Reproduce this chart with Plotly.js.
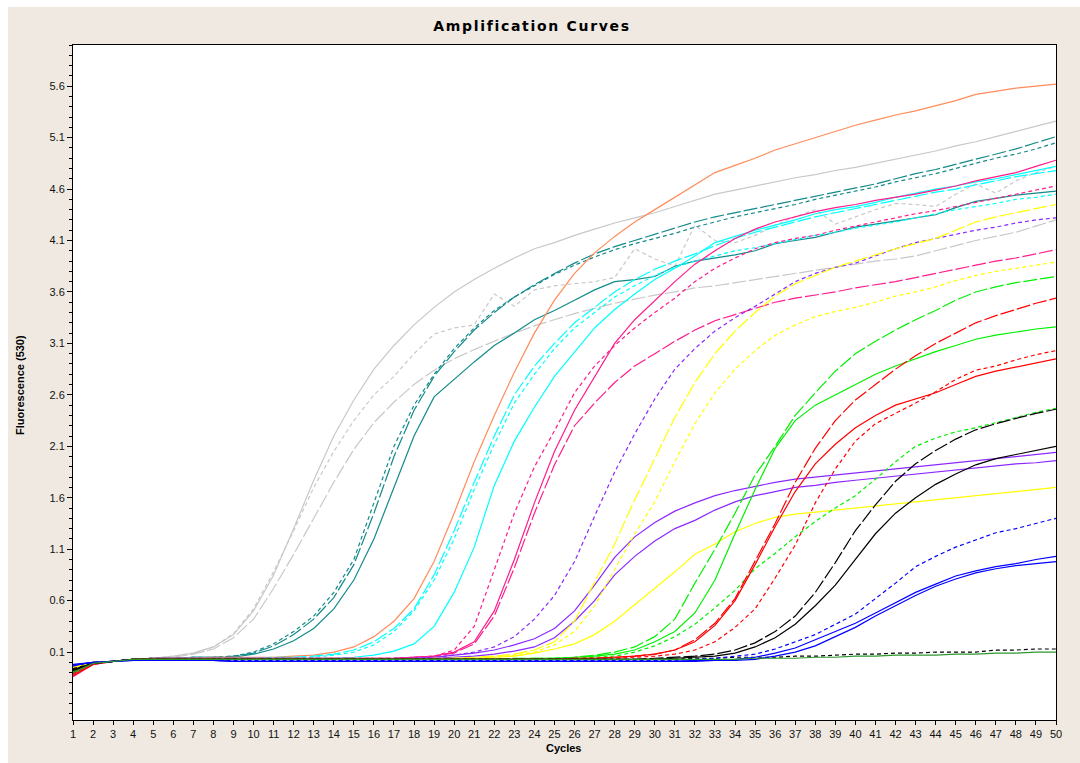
<!DOCTYPE html>
<html><head><meta charset="utf-8">
<script src="https://cdn.plot.ly/plotly-3.0.1.min.js"></script>
<style>html,body{margin:0;padding:0;background:#fff}#chart{width:1080px;height:763px}</style>
</head><body><div id="chart"></div><script>
const cycles = [1,2,3,4,5,6,7,8,9,10,11,12,13,14,15,16,17,18,19,20,21,22,23,24,25,26,27,28,29,30,31,32,33,34,35,36,37,38,39,40,41,42,43,44,45,46,47,48,49,50];
const yTickVals = [0.1,0.6,1.1,1.6,2.1,2.6,3.1,3.6,4.1,4.6,5.1,5.6];
const yTickText = ["0.1","0.6","1.1","1.6","2.1","2.6","3.1","3.6","4.1","4.6","5.1","5.6"];

const graySolid = [-0.08,-0.01,0.01,0.03,0.04,0.06,0.09,0.15,0.27,0.5,0.85,1.3,1.77,2.2,2.55,2.85,3.08,3.28,3.45,3.6,3.72,3.83,3.93,4.02,4.08,4.15,4.21,4.27,4.32,4.37,4.43,4.49,4.55,4.59,4.63,4.67,4.71,4.74,4.78,4.81,4.85,4.89,4.93,4.97,5.02,5.06,5.11,5.16,5.21,5.26];
const grayDot = [-0.1,-0.01,0.01,0.03,0.04,0.06,0.09,0.15,0.28,0.52,0.88,1.28,1.7,2.05,2.35,2.6,2.78,3.0,3.19,3.25,3.28,3.58,3.46,3.62,3.66,3.68,3.7,3.74,4.02,3.92,3.85,4.25,4.1,4.08,4.15,4.25,4.33,4.4,4.26,4.33,4.4,4.46,4.45,4.43,4.55,4.65,4.56,4.68,4.76,4.82];
const grayDash = [-0.06,0.0,0.01,0.03,0.04,0.05,0.08,0.13,0.24,0.42,0.72,1.05,1.4,1.75,2.07,2.33,2.53,2.7,2.84,2.95,3.04,3.12,3.2,3.27,3.33,3.39,3.44,3.49,3.53,3.57,3.6,3.64,3.66,3.69,3.72,3.75,3.78,3.81,3.84,3.87,3.9,3.92,3.95,4.0,4.05,4.1,4.14,4.18,4.24,4.3];
const tealDot = [-0.05,0.0,0.01,0.03,0.04,0.04,0.05,0.05,0.06,0.1,0.18,0.3,0.45,0.68,1.0,1.55,2.1,2.5,2.8,3.05,3.25,3.42,3.55,3.66,3.77,3.86,3.94,4.01,4.07,4.12,4.17,4.23,4.28,4.33,4.37,4.41,4.45,4.5,4.54,4.58,4.62,4.67,4.71,4.75,4.8,4.85,4.9,4.94,4.99,5.05];
const tealDash = [-0.04,0.0,0.01,0.03,0.04,0.04,0.05,0.05,0.06,0.09,0.16,0.27,0.42,0.63,0.95,1.45,2.0,2.45,2.78,3.02,3.23,3.4,3.55,3.67,3.78,3.88,3.97,4.04,4.1,4.16,4.22,4.28,4.33,4.37,4.41,4.45,4.49,4.53,4.57,4.61,4.65,4.7,4.75,4.79,4.84,4.89,4.94,4.99,5.05,5.11];
const tealSolid = [-0.07,-0.01,0.01,0.03,0.04,0.04,0.05,0.05,0.05,0.08,0.13,0.21,0.33,0.52,0.8,1.2,1.7,2.2,2.58,2.75,2.92,3.08,3.2,3.33,3.42,3.52,3.62,3.7,3.72,3.75,3.85,3.9,3.93,3.96,4.0,4.07,4.1,4.13,4.18,4.23,4.26,4.29,4.32,4.35,4.42,4.48,4.51,4.54,4.56,4.58];
const orangeSolid = [-0.12,-0.01,0.01,0.03,0.04,0.04,0.04,0.05,0.05,0.05,0.05,0.06,0.07,0.1,0.15,0.25,0.4,0.62,0.98,1.45,1.95,2.4,2.82,3.2,3.52,3.78,3.98,4.14,4.28,4.4,4.52,4.64,4.76,4.83,4.9,4.98,5.04,5.1,5.16,5.22,5.27,5.32,5.36,5.41,5.46,5.52,5.55,5.58,5.6,5.62];
const cyanSolid = [-0.1,-0.01,0.01,0.03,0.04,0.04,0.04,0.04,0.04,0.04,0.04,0.04,0.04,0.04,0.05,0.07,0.11,0.18,0.35,0.68,1.12,1.72,2.15,2.48,2.78,3.02,3.25,3.43,3.58,3.72,3.83,3.95,4.08,4.14,4.2,4.25,4.3,4.36,4.4,4.43,4.47,4.52,4.56,4.6,4.63,4.67,4.7,4.74,4.78,4.82];
const cyanDash = [-0.08,-0.01,0.01,0.03,0.04,0.04,0.04,0.04,0.04,0.04,0.05,0.05,0.06,0.08,0.12,0.2,0.33,0.52,0.85,1.28,1.75,2.2,2.6,2.88,3.1,3.3,3.45,3.6,3.72,3.82,3.9,3.97,4.05,4.12,4.18,4.23,4.28,4.33,4.37,4.41,4.45,4.49,4.53,4.57,4.6,4.64,4.68,4.72,4.75,4.78];
const cyanDot = [-0.09,-0.01,0.01,0.03,0.04,0.04,0.04,0.04,0.04,0.04,0.04,0.05,0.05,0.07,0.1,0.17,0.3,0.5,0.8,1.2,1.68,2.12,2.52,2.8,3.05,3.25,3.4,3.55,3.66,3.76,3.84,3.9,3.95,4.0,4.03,4.07,4.11,4.15,4.18,4.22,4.25,4.28,4.32,4.36,4.4,4.43,4.46,4.5,4.52,4.55];
const pinkSolid = [-0.14,-0.02,0.01,0.03,0.04,0.04,0.04,0.04,0.04,0.04,0.04,0.04,0.04,0.04,0.04,0.04,0.04,0.05,0.06,0.1,0.2,0.5,1.0,1.55,2.05,2.45,2.78,3.1,3.33,3.52,3.7,3.87,4.0,4.12,4.21,4.28,4.33,4.38,4.42,4.45,4.49,4.52,4.55,4.59,4.63,4.68,4.72,4.76,4.82,4.88];
const pinkDash = [-0.12,-0.02,0.01,0.03,0.04,0.04,0.04,0.04,0.04,0.04,0.04,0.04,0.04,0.04,0.04,0.04,0.04,0.05,0.06,0.09,0.18,0.45,0.92,1.45,1.92,2.3,2.52,2.72,2.88,3.0,3.12,3.23,3.32,3.38,3.44,3.5,3.54,3.57,3.6,3.64,3.67,3.7,3.74,3.78,3.82,3.86,3.9,3.93,3.97,4.01];
const pinkDot = [-0.1,-0.01,0.01,0.03,0.04,0.04,0.04,0.04,0.04,0.04,0.04,0.04,0.04,0.04,0.04,0.04,0.04,0.05,0.06,0.12,0.35,0.9,1.45,1.9,2.25,2.62,2.88,3.08,3.25,3.4,3.54,3.7,3.83,3.93,4.02,4.08,4.12,4.15,4.2,4.24,4.28,4.32,4.36,4.39,4.43,4.47,4.51,4.55,4.59,4.63];
const purpleDot = [-0.05,0.0,0.01,0.03,0.03,0.03,0.03,0.03,0.03,0.03,0.03,0.03,0.03,0.03,0.03,0.03,0.04,0.04,0.05,0.07,0.1,0.15,0.25,0.42,0.65,0.98,1.42,1.85,2.22,2.56,2.85,3.05,3.22,3.35,3.46,3.58,3.7,3.78,3.84,3.88,3.95,4.02,4.08,4.12,4.16,4.2,4.23,4.27,4.3,4.32];
const purpleSolidA = [-0.04,0.0,0.01,0.03,0.03,0.03,0.03,0.03,0.03,0.03,0.03,0.03,0.03,0.03,0.03,0.03,0.03,0.04,0.05,0.07,0.09,0.12,0.17,0.23,0.33,0.5,0.75,1.02,1.22,1.36,1.47,1.55,1.62,1.67,1.71,1.75,1.78,1.8,1.82,1.84,1.86,1.88,1.9,1.92,1.94,1.96,1.98,2.0,2.02,2.04];
const purpleSolidB = [-0.03,0.0,0.01,0.03,0.03,0.03,0.03,0.03,0.03,0.03,0.03,0.03,0.03,0.03,0.03,0.03,0.03,0.03,0.04,0.05,0.06,0.08,0.11,0.15,0.24,0.4,0.6,0.85,1.03,1.18,1.3,1.38,1.48,1.56,1.62,1.66,1.7,1.72,1.75,1.77,1.79,1.81,1.83,1.85,1.87,1.89,1.91,1.93,1.94,1.96];
const yellowDash = [-0.06,0.0,0.01,0.03,0.03,0.03,0.03,0.03,0.03,0.03,0.03,0.03,0.03,0.03,0.03,0.03,0.03,0.03,0.04,0.04,0.05,0.06,0.08,0.12,0.2,0.4,0.78,1.15,1.58,1.98,2.38,2.72,3.0,3.22,3.4,3.56,3.68,3.76,3.84,3.9,3.96,4.02,4.07,4.12,4.2,4.28,4.33,4.37,4.41,4.45];
const yellowDot = [-0.07,0.0,0.01,0.03,0.03,0.03,0.03,0.03,0.03,0.03,0.03,0.03,0.03,0.03,0.03,0.03,0.03,0.03,0.03,0.04,0.04,0.05,0.07,0.1,0.17,0.3,0.55,0.9,1.25,1.56,1.95,2.32,2.62,2.85,3.03,3.18,3.28,3.36,3.41,3.45,3.5,3.56,3.6,3.65,3.71,3.76,3.8,3.83,3.86,3.89];
const yellowSolid = [-0.05,0.0,0.01,0.03,0.03,0.03,0.03,0.03,0.03,0.03,0.03,0.03,0.03,0.03,0.03,0.03,0.03,0.03,0.03,0.04,0.04,0.05,0.06,0.09,0.13,0.18,0.27,0.4,0.56,0.72,0.88,1.05,1.15,1.27,1.35,1.41,1.44,1.46,1.48,1.5,1.52,1.54,1.56,1.58,1.6,1.62,1.64,1.66,1.68,1.7];
const greenDash = [-0.11,-0.01,0.01,0.03,0.03,0.03,0.03,0.03,0.03,0.03,0.03,0.03,0.03,0.03,0.03,0.03,0.03,0.03,0.03,0.03,0.03,0.03,0.04,0.04,0.04,0.05,0.07,0.1,0.15,0.25,0.42,0.77,1.1,1.45,1.82,2.1,2.4,2.62,2.83,3.0,3.12,3.23,3.33,3.42,3.52,3.6,3.65,3.69,3.72,3.75];
const greenSolid = [-0.09,-0.01,0.01,0.03,0.03,0.03,0.03,0.03,0.03,0.03,0.03,0.03,0.03,0.03,0.03,0.03,0.03,0.03,0.03,0.03,0.03,0.03,0.03,0.04,0.04,0.05,0.06,0.08,0.12,0.2,0.3,0.48,0.8,1.25,1.68,2.08,2.35,2.5,2.6,2.7,2.8,2.88,2.95,3.02,3.08,3.14,3.18,3.21,3.24,3.26];
const greenDot = [-0.08,-0.01,0.01,0.03,0.03,0.03,0.03,0.03,0.03,0.03,0.03,0.03,0.03,0.03,0.03,0.03,0.03,0.03,0.03,0.03,0.03,0.03,0.03,0.03,0.04,0.04,0.05,0.06,0.1,0.16,0.25,0.37,0.53,0.7,0.91,1.06,1.22,1.37,1.5,1.62,1.78,1.95,2.1,2.18,2.24,2.28,2.33,2.38,2.43,2.47];
const redDash = [-0.1,-0.01,0.01,0.03,0.03,0.03,0.03,0.03,0.03,0.03,0.03,0.03,0.03,0.03,0.03,0.03,0.03,0.03,0.03,0.03,0.03,0.03,0.03,0.03,0.03,0.04,0.04,0.05,0.06,0.08,0.12,0.22,0.38,0.62,0.98,1.35,1.75,2.08,2.35,2.55,2.7,2.85,2.98,3.1,3.2,3.3,3.37,3.43,3.49,3.54];
const redSolid = [-0.13,-0.02,0.01,0.03,0.03,0.03,0.03,0.03,0.03,0.03,0.03,0.03,0.03,0.03,0.03,0.03,0.03,0.03,0.03,0.03,0.03,0.03,0.03,0.03,0.03,0.04,0.04,0.05,0.06,0.08,0.12,0.2,0.36,0.6,0.95,1.32,1.66,1.93,2.12,2.28,2.4,2.5,2.56,2.62,2.7,2.78,2.83,2.87,2.91,2.95];
const redDot = [-0.11,-0.01,0.01,0.03,0.03,0.03,0.03,0.03,0.03,0.03,0.03,0.03,0.03,0.03,0.03,0.03,0.03,0.03,0.03,0.03,0.03,0.03,0.03,0.03,0.03,0.03,0.04,0.04,0.05,0.06,0.08,0.12,0.2,0.34,0.52,0.82,1.14,1.55,1.88,2.15,2.32,2.42,2.52,2.63,2.75,2.84,2.88,2.94,2.99,3.03];
const blackDash = [-0.08,-0.01,0.01,0.03,0.03,0.03,0.03,0.03,0.03,0.03,0.03,0.03,0.03,0.03,0.03,0.03,0.03,0.03,0.03,0.03,0.03,0.03,0.03,0.03,0.03,0.03,0.03,0.03,0.03,0.04,0.05,0.06,0.08,0.12,0.19,0.3,0.45,0.68,0.97,1.28,1.53,1.76,1.93,2.06,2.17,2.26,2.32,2.37,2.42,2.46];
const blackSolid = [-0.07,-0.01,0.01,0.03,0.03,0.03,0.03,0.03,0.03,0.03,0.03,0.03,0.03,0.03,0.03,0.03,0.03,0.03,0.03,0.03,0.03,0.03,0.03,0.03,0.03,0.03,0.03,0.03,0.03,0.03,0.04,0.05,0.06,0.09,0.15,0.24,0.37,0.55,0.75,1.0,1.25,1.45,1.6,1.73,1.83,1.92,1.98,2.02,2.06,2.1];
const blackDot = [-0.06,-0.01,0.01,0.03,0.03,0.03,0.03,0.03,0.03,0.03,0.03,0.03,0.03,0.03,0.03,0.03,0.03,0.03,0.03,0.03,0.03,0.03,0.03,0.03,0.03,0.03,0.03,0.03,0.03,0.03,0.03,0.04,0.04,0.05,0.05,0.05,0.06,0.06,0.07,0.08,0.08,0.09,0.09,0.1,0.1,0.1,0.12,0.12,0.13,0.13];
const blueDot = [-0.03,0.0,0.01,0.03,0.02,0.02,0.02,0.02,0.02,0.02,0.02,0.02,0.02,0.02,0.02,0.02,0.02,0.02,0.02,0.02,0.02,0.02,0.02,0.02,0.02,0.02,0.02,0.02,0.02,0.02,0.02,0.03,0.04,0.06,0.08,0.13,0.2,0.27,0.37,0.47,0.62,0.77,0.93,1.03,1.12,1.19,1.26,1.3,1.35,1.4];
const blueSolidA = [-0.02,0.0,0.01,0.02,0.02,0.02,0.02,0.02,0.01,0.01,0.01,0.01,0.01,0.01,0.01,0.01,0.01,0.01,0.01,0.01,0.01,0.01,0.01,0.01,0.01,0.01,0.01,0.01,0.01,0.01,0.01,0.02,0.02,0.03,0.05,0.09,0.14,0.22,0.3,0.38,0.48,0.58,0.68,0.76,0.84,0.89,0.93,0.96,1.0,1.03];
const blueSolidB = [-0.03,0.0,0.01,0.02,0.02,0.02,0.02,0.02,0.01,0.01,0.01,0.01,0.01,0.01,0.01,0.01,0.01,0.01,0.01,0.01,0.01,0.01,0.01,0.01,0.01,0.01,0.01,0.01,0.01,0.01,0.01,0.01,0.02,0.02,0.03,0.06,0.1,0.16,0.25,0.34,0.45,0.55,0.65,0.74,0.81,0.87,0.91,0.94,0.96,0.98];
const darkGreenSolid = [-0.1,-0.01,0.01,0.03,0.03,0.03,0.03,0.03,0.03,0.03,0.03,0.03,0.03,0.03,0.03,0.03,0.03,0.03,0.03,0.03,0.03,0.03,0.03,0.03,0.03,0.03,0.03,0.03,0.03,0.03,0.03,0.03,0.03,0.03,0.04,0.04,0.04,0.05,0.05,0.06,0.06,0.07,0.07,0.07,0.08,0.08,0.09,0.09,0.1,0.1];

const DOT = '4px,3px', LONG = '14px,3px', SOLID = 'solid';
const C = {gray:'#c8c8c8', teal:'#138a8a', orange:'#ff8c5a', cyan:'#00ffff', pink:'#ff1c8c', purple:'#8c28ff', yellow:'#ffff00', green:'#00f000', red:'#ff0000', black:'#000000', blue:'#0000ff', dkgreen:'#2e962e'};
const series = [
  [grayDash, C.gray, LONG],[grayDot, C.gray, DOT],[graySolid, C.gray, SOLID],
  [tealSolid, C.teal, SOLID],[tealDot, C.teal, DOT],[tealDash, C.teal, LONG],
  [orangeSolid, C.orange, SOLID],
  [cyanDot, C.cyan, DOT],[cyanDash, C.cyan, LONG],[cyanSolid, C.cyan, SOLID],
  [pinkDash, C.pink, LONG],[pinkDot, C.pink, DOT],[pinkSolid, C.pink, SOLID],
  [purpleDot, C.purple, DOT],[purpleSolidA, C.purple, SOLID],[purpleSolidB, C.purple, SOLID],
  [yellowDash, C.yellow, LONG],[yellowDot, C.yellow, DOT],[yellowSolid, C.yellow, SOLID],
  [greenDash, C.green, LONG],[greenSolid, C.green, SOLID],[greenDot, C.green, DOT],
  [redDash, C.red, LONG],[redSolid, C.red, SOLID],[redDot, C.red, DOT],
  [blackDash, C.black, LONG],[blackSolid, C.black, SOLID],[blackDot, C.black, DOT],
  [blueDot, C.blue, DOT],[blueSolidA, C.blue, SOLID],[blueSolidB, C.blue, SOLID],
  [darkGreenSolid, C.dkgreen, SOLID]
];
const traces = series.map(([y, color, dash]) => ({
  type:'scatter', mode:'lines', x: cycles, y: y,
  line:{color: color, width:1.2, dash: dash}, hoverinfo:'skip', showlegend:false
}));

// plot area in px: x 73..1056, y 45..720
const L = 73, R = 1056, T = 45, B = 720, W = 1080, H = 763;
const pw = R - L, ph = B - T;
const px = v => (v - L) / pw, py = v => (B - v) / ph;
const font = 'Liberation Sans, Arial, sans-serif';

const layout = {
  width: W, height: H,
  margin: {l: L, r: W - R, t: T, b: H - B, pad: 0},
  paper_bgcolor: '#efe9e1', plot_bgcolor: '#ffffff',
  font: {family: font, size: 11, color: '#111'},
  title: {text: '<span style="letter-spacing:1.7px">Amplification Curves</span>', x: 532 / W, xref: 'container', xanchor: 'center',
          y: 1 - 26 / H, yref: 'container', yanchor: 'middle',
          font: {family: 'DejaVu Sans, Verdana, sans-serif', size: 14, weight: 'bold', color: '#000'}},
  xaxis: {range: [1, 50], tickmode: 'array', tickvals: cycles, ticktext: cycles.map(String),
          ticks: 'outside', ticklen: 4, tickwidth: 1, tickcolor: '#000',
          showline: true, linecolor: '#000', linewidth: 1, mirror: true,
          showgrid: false, zeroline: false, tickfont: {family: font, size: 11, color: '#111'}},
  yaxis: {range: [-0.56, 6.0], tickmode: 'array', tickvals: yTickVals, ticktext: yTickText,
          ticks: 'outside', ticklen: 5, tickwidth: 1, tickcolor: '#000',
          minor: {dtick: 0.1, tick0: 0.1, ticks: 'outside', ticklen: 3, tickcolor: '#000', showgrid: false},
          showline: true, linecolor: '#000', linewidth: 1, mirror: true,
          showgrid: false, zeroline: false, tickfont: {family: font, size: 11, color: '#111'}},
  shapes: [
    {type: 'rect', xref: 'paper', yref: 'paper', x0: px(0), x1: px(W), y0: py(0), y1: py(7), fillcolor: '#ffffff', line: {width: 0}, layer: 'above'},
    {type: 'rect', xref: 'paper', yref: 'paper', x0: px(0), x1: px(8), y0: py(0), y1: py(H), fillcolor: '#ffffff', line: {width: 0}, layer: 'above'}
  ],
  annotations: [
    {text: '<b>Cycles</b>', xref: 'paper', yref: 'paper', x: px(563), y: py(748), xanchor: 'center', yanchor: 'middle', showarrow: false, font: {family: font, size: 11, color: '#000'}},
    {text: '<b>Fluorescence (530)</b>', xref: 'paper', yref: 'paper', x: px(20), y: py(385), xanchor: 'center', yanchor: 'middle', textangle: -90, showarrow: false, font: {family: font, size: 11, color: '#000'}}
  ]
};
Plotly.newPlot('chart', traces, layout, {displayModeBar: false, staticPlot: true});
</script></body></html>
